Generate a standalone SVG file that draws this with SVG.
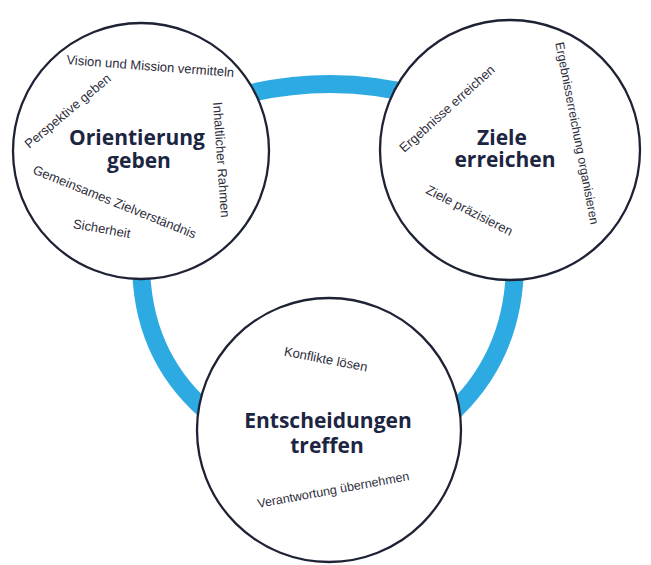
<svg xmlns="http://www.w3.org/2000/svg" width="651" height="565" viewBox="0 0 651 565">
<style>
.bg{fill:#ffffff}
.ring{fill:none;stroke:#2eaae2;stroke-width:18}
.node{fill:#ffffff;stroke:#1e2235;stroke-width:2.3}
.t{font-family:"Open Sans","Noto Sans",sans-serif;font-weight:bold;font-size:21px;fill:#1c2541;text-anchor:middle}
.s{font-family:"Liberation Sans",Arial,sans-serif;font-size:13px;fill:#2e2e3c;text-anchor:middle}
</style>
<rect class="bg" x="0" y="0" width="651" height="565"/>
<g id="connectors">
<path class="ring" d="M 235 97 Q 330 71 425 97"/>
<path class="ring" d="M 141 262 C 141 320 160 370 205 410"/>
<path class="ring" d="M 515 262 C 515 320 496 370 455 410"/>
</g>
<g id="orientierung">
<circle class="node" cx="141" cy="151" r="128"/>
<text class="t"><tspan x="137" y="145">Orientierung</tspan><tspan x="139" y="168">geben</tspan></text>
<text class="s" transform="translate(150,70.5) rotate(4.4)">Vision und Mission vermitteln</text>
<text class="s" transform="translate(70.5,114.5) rotate(-40)">Perspektive geben</text>
<text class="s" transform="translate(217,160) rotate(86)">Inhaltlicher Rahmen</text>
<text class="s" transform="translate(113,206) rotate(22)">Gemeinsames Zielverständnis</text>
<text class="s" transform="translate(101,233) rotate(10)">Sicherheit</text>
</g>
<g id="ziele">
<circle class="node" cx="510" cy="150" r="130"/>
<text class="t"><tspan x="502" y="145">Ziele</tspan><tspan x="505" y="167">erreichen</tspan></text>
<text class="s" transform="translate(450,112) rotate(-42)">Ergebnisse erreichen</text>
<text class="s" style="font-size:12.4px" transform="translate(573,134) rotate(79)">Ergebnisserreichung organisieren</text>
<text class="s" transform="translate(467.5,214.5) rotate(27)">Ziele präzisieren</text>
</g>
<g id="entscheidungen">
<circle class="node" cx="329" cy="430" r="132"/>
<text class="t"><tspan x="328" y="428">Entscheidungen</tspan><tspan x="327" y="453">treffen</tspan></text>
<text class="s" transform="translate(325,363.5) rotate(11)">Konflikte lösen</text>
<text class="s" style="font-size:12.5px" transform="translate(334,494) rotate(-10.4)">Verantwortung übernehmen</text>
</g>
</svg>
